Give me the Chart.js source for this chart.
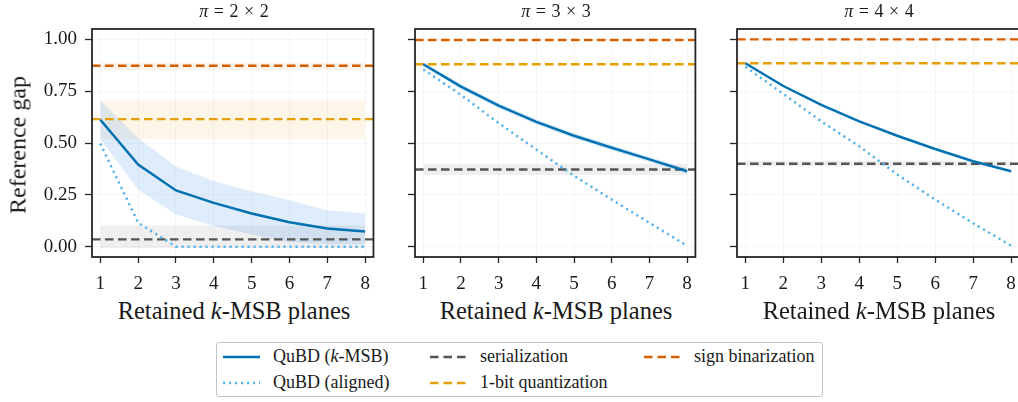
<!DOCTYPE html>
<html>
<head>
<meta charset="utf-8">
<script src="https://cdn.jsdelivr.net/npm/chart.js@4.4.1/dist/chart.umd.min.js"></script>
<style>
body { margin: 0; width: 1018px; height: 402px; overflow: hidden; background: #fff; position: relative;
       font-family: "Liberation Serif", "DejaVu Serif", serif; color: #1a1a1a; }
canvas { position: absolute; top: 0; }
.lbl { position: absolute; white-space: nowrap; transform: translate(-50%, -50%); }
.title { font-size: 18px; top: 11px; word-spacing: 1px; }
.xlab { font-size: 24.5px; top: 311px; }
.ylab { font-size: 24px; left: 18px; top: 145px; transform: translate(-50%, -50%) rotate(-90deg); }
#legend { position: absolute; left: 216px; top: 342px; width: 607px; height: 55px; border: 1px solid #c4c4c4;
          border-radius: 3px; box-sizing: border-box; font-size: 18px; }
.item { position: absolute; display: flex; align-items: center; white-space: nowrap; }
.item svg { margin-right: 13px; }
</style>
</head>
<body>

<canvas id="p1" width="380" height="290" style="left:0px"></canvas>
<canvas id="p2" width="322" height="290" style="left:380px"></canvas>
<canvas id="p3" width="326" height="290" style="left:700px"></canvas>

<div class="lbl title" style="left:234px"><i>π</i> = 2 × 2</div>
<div class="lbl title" style="left:556px"><i>π</i> = 3 × 3</div>
<div class="lbl title" style="left:879px"><i>π</i> = 4 × 4</div>
<div class="lbl xlab" style="left:234px">Retained <i>k</i>-MSB planes</div>
<div class="lbl xlab" style="left:556px">Retained <i>k</i>-MSB planes</div>
<div class="lbl xlab" style="left:879px">Retained <i>k</i>-MSB planes</div>
<div class="lbl ylab">Reference gap</div>

<div id="legend">
  <div class="item" style="left:6px;top:3px"><svg width="37" height="6"><line x1="0" y1="3" x2="37" y2="3" stroke="#0072B2" stroke-width="2.4"/></svg>QuBD (<i>k</i>-MSB)</div>
  <div class="item" style="left:6px;top:29px"><svg width="37" height="6"><line x1="0" y1="3" x2="37" y2="3" stroke="#56B4E9" stroke-width="2.4" stroke-dasharray="2.2 3.8"/></svg>QuBD (aligned)</div>
  <div class="item" style="left:213px;top:3px"><svg width="37" height="6"><line x1="0" y1="3" x2="37" y2="3" stroke="#555555" stroke-width="2.4" stroke-dasharray="8.5 5"/></svg>serialization</div>
  <div class="item" style="left:213px;top:29px"><svg width="37" height="6"><line x1="0" y1="3" x2="37" y2="3" stroke="#E69F00" stroke-width="2.4" stroke-dasharray="8.5 5"/></svg>1-bit quantization</div>
  <div class="item" style="left:427px;top:3px"><svg width="37" height="6"><line x1="0" y1="3" x2="37" y2="3" stroke="#D55E00" stroke-width="2.4" stroke-dasharray="8.5 5"/></svg>sign binarization</div>
</div>

<script>
// retained planes k
const K = [1, 2, 3, 4, 5, 6, 7, 8];
const Y_TICKS = [0, 0.25, 0.5, 0.75, 1.0];

// QuBD (k-MSB), mean and band, per patch size
const kmsb2   = [0.612, 0.396, 0.271, 0.211, 0.160, 0.118, 0.087, 0.073];
const kmsb2Lo = [0.519, 0.275, 0.155, 0.100, 0.059, 0.022, 0.011, 0.011];
const kmsb2Hi = [0.705, 0.524, 0.387, 0.315, 0.267, 0.224, 0.175, 0.160];
const kmsb3   = [0.880, 0.772, 0.680, 0.602, 0.535, 0.477, 0.421, 0.364];
const kmsb3Lo = [0.870, 0.759, 0.667, 0.589, 0.522, 0.464, 0.408, 0.351];
const kmsb3Hi = [0.890, 0.785, 0.693, 0.615, 0.548, 0.490, 0.434, 0.377];
const kmsb4   = [0.885, 0.775, 0.684, 0.604, 0.535, 0.471, 0.412, 0.364];
const kmsb4Lo = [0.881, 0.771, 0.680, 0.600, 0.531, 0.467, 0.408, 0.360];
const kmsb4Hi = [0.889, 0.779, 0.688, 0.608, 0.539, 0.475, 0.416, 0.368];

// QuBD (aligned)
const aligned2 = [0.497, 0.115, 0.0, 0.0, 0.0, 0.0, 0.0, 0.0];
const aligned3 = [0.855, 0.732, 0.596, 0.468, 0.342, 0.227, 0.115, 0.004];
const aligned4 = [0.868, 0.737, 0.604, 0.484, 0.348, 0.227, 0.113, 0.005];

// baselines, one value per panel (2x2, 3x3, 4x4)
const serialization   = [0.035, 0.372, 0.400];
const serializationLo = [-0.007, 0.346, 0.388];
const serializationHi = [0.102, 0.400, 0.414];
const oneBit   = [0.615, 0.880, 0.885];
const oneBitLo = [0.521, 0.875, 0.881];
const oneBitHi = [0.705, 0.885, 0.889];
const signBin   = [0.873, 0.997, 1.000];
const signBinLo = [0.852, 0.993, 0.997];
const signBinHi = [0.889, 1.001, 1.003];

const X_MIN = 0.78, X_MAX = 8.22, Y_MIN = -0.05, Y_MAX = 1.05;

const BLUE = '#0072B2', SKY = '#56B4E9', GRAY = '#555555', ORANGE = '#E69F00', VERMIL = '#D55E00';

function pts(ys) { return K.map((k, i) => ({x: k, y: ys[i]})); }
function flat(y, x0, x1) { return [{x: x0, y: y}, {x: x1, y: y}]; }

function band(lo, hi, color) {
    return [
        {data: hi, borderWidth: 0, pointRadius: 0, fill: false},
        {data: lo, borderWidth: 0, pointRadius: 0, fill: '-1', backgroundColor: color}
    ];
}

function dashed(y, color) {
    return {data: flat(y, X_MIN, X_MAX), borderColor: color, borderWidth: 2.4, borderDash: [8.5, 4.5], pointRadius: 0, fill: false};
}

function datasets(p, mean, lo, hi, aligned) {
    const k0 = K[0], k1 = K[K.length - 1];
    return [
        {data: pts(mean), borderColor: BLUE, borderWidth: 2.5, pointRadius: 0, fill: false},
        {data: pts(aligned), borderColor: SKY, borderWidth: 2.5, borderDash: [2.2, 3.8], pointRadius: 0, fill: false},
        dashed(serialization[p], GRAY),
        dashed(oneBit[p], ORANGE),
        dashed(signBin[p], VERMIL),
        ...band(pts(lo), pts(hi), 'rgba(70,150,240,0.18)'),
        ...band(flat(serializationLo[p], k0, k1), flat(serializationHi[p], k0, k1), 'rgba(128,128,128,0.13)'),
        ...band(flat(oneBitLo[p], k0, k1), flat(oneBitHi[p], k0, k1), 'rgba(230,159,0,0.09)'),
        ...band(flat(signBinLo[p], k0, k1), flat(signBinHi[p], k0, k1), 'rgba(213,94,0,0.07)')
    ];
}

const frame = {
    id: 'frame',
    afterDatasetsDraw(chart) {
        const a = chart.chartArea, c = chart.ctx;
        c.save();
        c.strokeStyle = '#262626';
        c.lineWidth = 1.8;
        c.strokeRect(a.left, a.top, a.right - a.left, a.bottom - a.top);
        c.restore();
    }
};

function drawPanel(id, p, yWidth, padRight, showY, mean, lo, hi, aligned) {
    new Chart(document.getElementById(id), {
        type: 'line',
        data: {datasets: datasets(p, mean, lo, hi, aligned)},
        options: {
            responsive: false,
            animation: false,
            devicePixelRatio: 1,
            layout: {padding: {top: 29, right: padRight, left: 0, bottom: 0}},
            plugins: {legend: {display: false}, tooltip: {enabled: false}},
            scales: {
                x: {
                    type: 'linear', min: X_MIN, max: X_MAX,
                    afterBuildTicks: s => { s.ticks = K.map(v => ({value: v})); },
                    afterFit: s => { s.height = 33; },
                    border: {display: false},
                    grid: {color: 'rgba(0,0,0,0.035)', tickColor: '#262626', tickLength: 6, tickWidth: 1.3},
                    ticks: {color: '#1a1a1a', padding: 10, maxRotation: 0, font: {family: 'Liberation Serif', size: 19}}
                },
                y: {
                    min: Y_MIN, max: Y_MAX,
                    afterBuildTicks: s => { s.ticks = Y_TICKS.map(v => ({value: v})); },
                    afterFit: s => { s.width = yWidth; },
                    border: {display: false},
                    grid: {color: 'rgba(0,0,0,0.035)', tickColor: '#262626', tickLength: 7, tickWidth: 1.3},
                    ticks: {
                        color: '#1a1a1a', padding: 8, font: {family: 'Liberation Serif', size: 19},
                        callback: v => showY ? v.toFixed(2) : ''
                    }
                }
            }
        },
        plugins: [frame]
    });
}

drawPanel('p1', 0, 92, 4, true, kmsb2, kmsb2Lo, kmsb2Hi, aligned2);
drawPanel('p2', 1, 35, 5, false, kmsb3, kmsb3Lo, kmsb3Hi, aligned3);
drawPanel('p3', 2, 37, 5, false, kmsb4, kmsb4Lo, kmsb4Hi, aligned4);
</script>
</body>
</html>
